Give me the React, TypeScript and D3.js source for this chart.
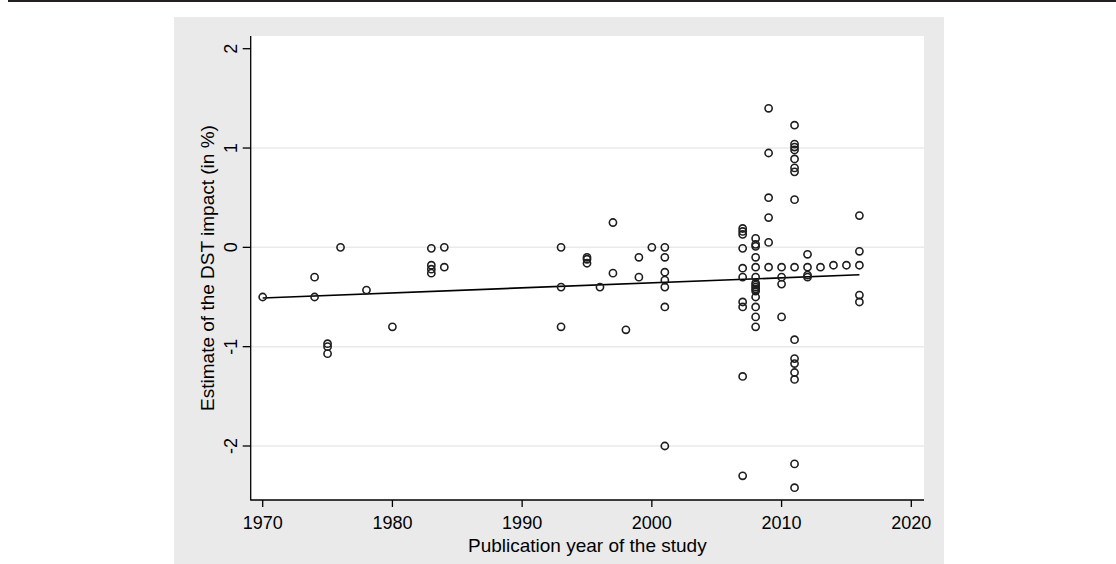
import * as d3 from "d3";

// Publication years and the DST impact estimates (in %) reported for each year
const pubYears = [1970, 1974, 1975, 1976, 1978, 1980, 1983, 1984, 1993, 1995, 1996, 1997, 1998, 1999, 2000, 2001, 2007, 2008, 2009, 2010, 2011, 2012, 2013, 2014, 2015, 2016];
const estimates: number[][] = [
    [-0.5],
    [-0.3, -0.5],
    [-0.97, -1.0, -1.07],
    [0],
    [-0.43],
    [-0.8],
    [-0.01, -0.18, -0.22, -0.26],
    [0, -0.2],
    [0, -0.4, -0.8],
    [-0.1, -0.12, -0.16],
    [-0.4],
    [0.25, -0.26],
    [-0.83],
    [-0.1, -0.3],
    [0],
    [0, -0.1, -0.25, -0.33, -0.4, -0.6, -2.0],
    [0.19, 0.16, 0.13, -0.01, -0.21, -0.3, -0.55, -0.6, -1.3, -2.3],
    [0.09, 0.03, 0.01, -0.1, -0.2, -0.3, -0.36, -0.38, -0.4, -0.42, -0.44, -0.5, -0.6, -0.7, -0.8],
    [1.4, 0.95, 0.5, 0.3, 0.05, -0.2],
    [-0.2, -0.3, -0.37, -0.7],
    [1.23, 1.04, 1.01, 0.98, 0.89, 0.8, 0.76, 0.48, -0.2, -0.93, -1.12, -1.17, -1.26, -1.33, -2.18, -2.42],
    [-0.07, -0.2, -0.28, -0.3],
    [-0.2],
    [-0.18],
    [-0.18],
    [0.32, -0.04, -0.18, -0.48, -0.55],
];

// fitted line
const fitYears = [1970, 2016];
const fitValues = [-0.51, -0.276];

const xTicks = [1970, 1980, 1990, 2000, 2010, 2020];
const yTicks = [-2, -1, 0, 1, 2];
const yGrid = [-2, -1, 0, 1];

const xTitle = "Publication year of the study";
const yTitle = "Estimate of the DST impact (in %)";

const width = 1116;
const height = 564;
const font = "'Liberation Sans', Arial, Helvetica, sans-serif";

const App = () => {
    // plot region
    const plot = {left: 250.7, right: 924, top: 36, bottom: 500};

    const xScale = d3.scaleLinear().domain([1970, 2020]).range([262.7, 911.3]);
    const yScale = d3.scaleLinear().domain([-2, 2]).range([446, 48.7]);

    const points = pubYears.flatMap((yr, i) => estimates[i].map(v => ({x: yr, y: v})));

    const line = d3
        .line<number>()
        .x((_, i) => xScale(fitYears[i]))
        .y(d => yScale(d));

    const ink = "#1e1e1e";

    return (
        <svg width={width} height={height} style={{position: "absolute", left: 0, top: 0}}
             fontFamily={font}>
            <rect x={0} y={0} width={width} height={height} fill="#ffffff"/>
            {/* top rule */}
            <rect x={8} y={0} width={width - 8} height={2} fill="#231f20"/>
            {/* graph region */}
            <rect x={174} y={17} width={944 - 174} height={height - 17} fill="#eaeaea"/>
            <rect x={plot.left} y={plot.top} width={plot.right - plot.left} height={plot.bottom - plot.top}
                  fill="#ffffff"/>

            {/* grid lines */}
            {yGrid.map(t => (
                <line key={"g" + t} x1={plot.left} x2={plot.right} y1={yScale(t)} y2={yScale(t)}
                      stroke="#eaeaea" strokeWidth={1.5}/>
            ))}

            {/* fitted line */}
            <path d={line(fitValues) || ""} fill="none" stroke="#000" strokeWidth={1.7}/>

            {/* markers */}
            {points.map((p, i) => (
                <circle key={i} cx={xScale(p.x)} cy={yScale(p.y)} r={3.6} fill="none" stroke={ink}
                        strokeWidth={1.6}/>
            ))}

            {/* axes */}
            <line x1={plot.left} x2={plot.left} y1={plot.top} y2={plot.bottom + 0.6} stroke="#000" strokeWidth={1.3}/>
            <line x1={plot.left} x2={plot.right} y1={plot.bottom} y2={plot.bottom} stroke="#000" strokeWidth={1.3}/>

            {yTicks.map(t => (
                <g key={"y" + t}>
                    <line x1={plot.left - 8} x2={plot.left} y1={yScale(t)} y2={yScale(t)} stroke="#000"
                          strokeWidth={1.3}/>
                    <text transform={`translate(${plot.left - 14},${yScale(t)}) rotate(-90)`}
                          textAnchor="middle" fontSize={18} fill="#000">{t}</text>
                </g>
            ))}

            {xTicks.map(t => (
                <g key={"x" + t}>
                    <line x1={xScale(t)} x2={xScale(t)} y1={plot.bottom} y2={plot.bottom + 7} stroke="#000"
                          strokeWidth={1.3}/>
                    <text x={xScale(t)} y={529.3} textAnchor="middle" fontSize={18} fill="#000">{t}</text>
                </g>
            ))}

            <text x={(plot.left + plot.right) / 2} y={551.7} textAnchor="middle" fontSize={19}
                  fill="#000">{xTitle}</text>
            <text transform={`translate(214,${(plot.top + plot.bottom) / 2}) rotate(-90)`} textAnchor="middle"
                  fontSize={19} fill="#000">{yTitle}</text>
        </svg>
    );
};

export default App;
